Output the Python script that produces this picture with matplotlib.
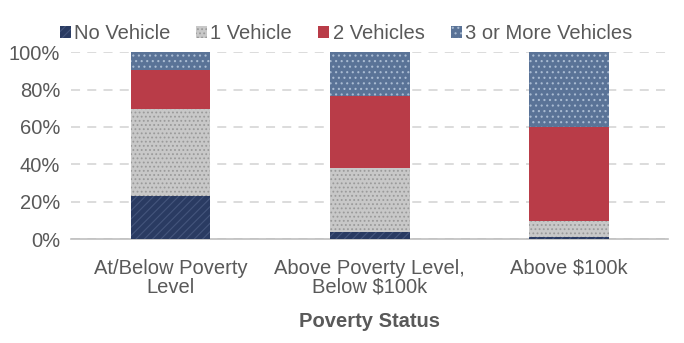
import matplotlib
matplotlib.use('Agg')
import matplotlib.pyplot as plt
import numpy as np

plt.rcParams['font.family'] = ['Liberation Sans', 'DejaVu Sans']
plt.rcParams['hatch.linewidth'] = 0.8

categories = ['At/Below Poverty\nLevel', 'Above Poverty Level,\nBelow $100k', 'Above $100k']
series_names = ['No Vehicle', '1 Vehicle', '2 Vehicles', '3 or More Vehicles']
no_vehicle = [23.3, 3.8, 1.2]
one_vehicle = [46.4, 34.3, 8.5]
two_vehicles = [20.7, 38.7, 50.0]
three_plus = [9.6, 23.2, 40.3]

face_colors = ['#2a3b62', '#c8c8c8', '#b93c48', '#5a7397']
hatch_colors = ['#44557c', '#9a9a9a', '#b93c48', '#a9bbd2']
hatches = ['////', '....', '', '...']

txt = '#595959'
fs = 14.5
fig, ax = plt.subplots(figsize=(6.84, 3.43), dpi=100)
fig.subplots_adjust(left=0.104, right=0.977, top=0.848, bottom=0.303)

x = np.arange(len(categories))
bottom = np.zeros(len(categories))
handles = []
for vals, name, fc, hc, h in zip([no_vehicle, one_vehicle, two_vehicles, three_plus],
                                 series_names, face_colors, hatch_colors, hatches):
    b = ax.bar(x, vals, 0.4, bottom=bottom, color=fc, edgecolor=hc, hatch=h,
               linewidth=0, label=name, zorder=3)
    handles.append(b)
    bottom += np.array(vals)

ax.set_xlim(-0.5, 2.5)
ax.set_ylim(0, 100)
ax.set_yticks(np.arange(0, 101, 20))
ax.set_yticklabels([f'{v}%' for v in range(0, 101, 20)])
ax.yaxis.grid(True, color='#d9d9d9', linestyle=(0, (5, 4)), linewidth=1.3, zorder=0)
ax.set_xticks(x)
ax.set_xticklabels(categories, linespacing=1.0)
ax.tick_params(axis='both', length=0, labelsize=fs, colors=txt)
ax.tick_params(axis='x', pad=14)
ax.tick_params(axis='y', pad=8)
for s in ['top', 'right', 'left']:
    ax.spines[s].set_visible(False)
ax.spines['bottom'].set_color('#bfbfbf')
ax.spines['bottom'].set_linewidth(1.2)
ax.set_xlabel('Poverty Status', fontsize=fs, fontweight='bold', color=txt, labelpad=11)

ax.legend(handles=handles, loc='lower center', bbox_to_anchor=(0.46, 0.985), ncol=4,
          frameon=False, fontsize=fs, labelcolor=txt, handlelength=0.55, handleheight=0.55,
          handletextpad=0.15, columnspacing=1.3, borderaxespad=0.2)

fig.savefig('out.png', dpi=100)
